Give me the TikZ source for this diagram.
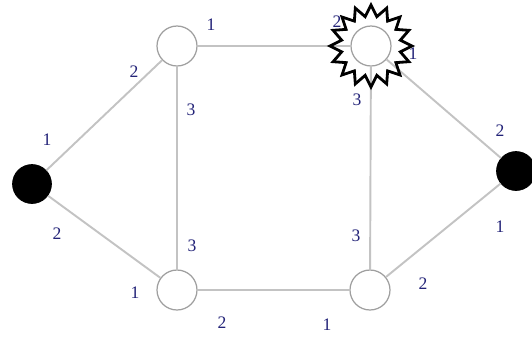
\documentclass[tikz,border=0pt]{standalone}
\usepackage{fontspec}
\setmainfont{Liberation Serif}
\usetikzlibrary{shapes.geometric}
\definecolor{portnum}{RGB}{35,35,120}
\definecolor{edgegray}{RGB}{195,195,195}

\begin{document}
\begin{tikzpicture}[
    x=0.02cm, y=-0.02cm,
    host/.style={
        circle,
        draw=black,
        fill=black,
        minimum size=0.78cm,
        inner sep=0pt
    },
    switch/.style={
        circle,
        draw=gray!75,
        fill=white,
        line width=0.7pt,
        minimum size=0.8cm,
        inner sep=0pt
    },
    link/.style={
        draw=edgegray,
        line width=1.1pt
    },
    port/.style={
        font=\normalsize,
        text=portnum,
        inner sep=0pt
    },
    burst/.style={
        star,
        star points=16,
        star point ratio=1.37,
        minimum size=1.64cm,
        inner sep=0pt,
        draw=black,
        line width=1.6pt,
        line join=miter
    }
]
    \useasboundingbox (0,0) rectangle (532,336);

    % Nodes
    \node[host] (hl) at (32,184) {};
    \node[host] (hr) at (516,171) {};
    \node[switch] (tl) at (177,46) {};
    \node[switch] (tr) at (371,46) {};
    \node[switch] (bl) at (177,290) {};
    \node[switch] (br) at (370,290) {};

    % Links
    \draw[link] (hl) -- (tl);
    \draw[link] (hl) -- (bl);
    \draw[link] (tl) -- (tr);
    \draw[link] (tl) -- (bl);
    \draw[link] (tr) -- (br);
    \draw[link] (tr) -- (hr);
    \draw[link] (bl) -- (br);
    \draw[link] (br) -- (hr);

    % Port numbers
    \node[port] (p1) at (47,140) {1};
    \node[port] (p2) at (57,234) {2};
    \node[port] (p3) at (134,72) {2};
    \node[port] (p4) at (211,25) {1};
    \node[port] (p5) at (191,110) {3};
    \node[port] (p6) at (192,246) {3};
    \node[port] (p7) at (135,293) {1};
    \node[port] (p8) at (222,323) {2};
    \node[port] (p9) at (327,325) {1};
    \node[port] (p10) at (423,284) {2};
    \node[port] (p11) at (356,236) {3};
    \node[port] (p12) at (357,100) {3};
    \node[port] (p13) at (337,22) {2};
    \node[port] (p14) at (413,54) {1};
    \node[port] (p15) at (500,131) {2};
    \node[port] (p16) at (500,227) {1};

    % Highlight of the failed switch
    \node[burst] (fail) at (tr) {};

\end{tikzpicture}
\end{document}
